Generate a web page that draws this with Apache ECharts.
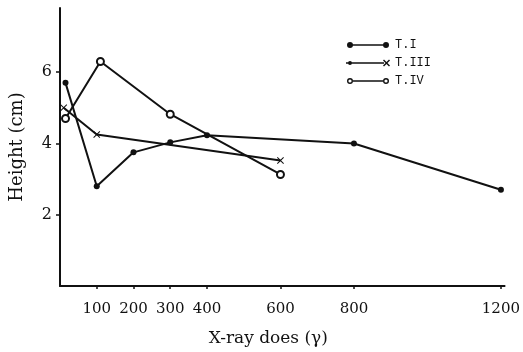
<!DOCTYPE html>
<html>
<head>
<meta charset="utf-8">
<script src="https://cdn.jsdelivr.net/npm/echarts@6/dist/echarts.min.js"></script>
<style>
  html, body { margin: 0; padding: 0; background: #fff; }
  #chart { width: 523px; height: 352px; }
</style>
</head>
<body>
<div id="chart"></div>
<script>
// values
const dosesT1 = [15, 100, 200, 300, 400, 800, 1200]
const heightT1 = [5.7, 2.8, 3.75, 4.03, 4.23, 4.0, 2.7]
const dosesT3 = [10, 100, 600]
const heightT3 = [5.0, 4.25, 3.52]
const dosesT4 = [15, 110, 300, 600]
const heightT4 = [4.7, 6.3, 4.82, 3.13]
const xTicks = [100, 200, 300, 400, 600, 800, 1200]
const yTicks = [2, 4, 6]
const seriesNames = ['T.I', 'T.III', 'T.IV']

const pairs = (xs, ys) => xs.map((x, i) => [x, ys[i]])

const serif = '"DejaVu Serif", "Liberation Serif", serif'
const crossPath = 'path://M0,1L1,0L5,4L9,0L10,1L6,5L10,9L9,10L5,6L1,10L0,9L4,5Z'

// legend icons: a line with a marker at each end
const iconT1 = 'path://M3,3.3H41V4.7H3Z M1,4A3,3 0 1,1 7,4A3,3 0 1,1 1,4Z M37,4A3,3 0 1,1 43,4A3,3 0 1,1 37,4Z M0,4H0.1V4.1H0Z M43.9,4H44V4.1H43.9Z'
const iconT3 = 'path://M0,3.3H38V4.7H0Z M2,4A2,2 0 1,1 6,4A2,2 0 1,1 2,4Z M37,1.5L38,0.5L40.5,3L43,0.5L44,1.5L41.5,4L44,6.5L43,7.5L40.5,5L38,7.5L37,6.5L39.5,4Z'
const iconT4 = 'path://M7,3.3H37V4.7H7Z M1,4A3,3 0 1,1 7,4A3,3 0 1,1 1,4Z M2.4,4A1.6,1.6 0 1,0 5.6,4A1.6,1.6 0 1,0 2.4,4Z M37,4A3,3 0 1,1 43,4A3,3 0 1,1 37,4Z M38.4,4A1.6,1.6 0 1,0 41.6,4A1.6,1.6 0 1,0 38.4,4Z M0,4H0.1V4.1H0Z M43.9,4H44V4.1H43.9Z'

const chart = echarts.init(document.getElementById('chart'))

const option = {
  animation: false,
  backgroundColor: '#fff',
  grid: { left: 60, right: 18, top: 8, bottom: 66 },
  legend: {
    orient: 'vertical',
    left: 341,
    top: 34,
    itemWidth: 44,
    itemHeight: 8,
    itemGap: 6,
    textStyle: { fontFamily: '"Liberation Mono", "DejaVu Sans Mono", monospace', fontSize: 12, color: '#111' },
    data: [
      { name: seriesNames[0], icon: iconT1, itemStyle: { color: '#111', borderWidth: 0 } },
      { name: seriesNames[1], icon: iconT3, itemStyle: { color: '#111', borderWidth: 0 } },
      { name: seriesNames[2], icon: iconT4, itemStyle: { color: '#111', borderWidth: 0 } }
    ]
  },
  xAxis: {
    type: 'value',
    min: 0,
    max: 1210,
    interval: 100,
    name: 'X-ray does (γ)',
    nameLocation: 'middle',
    nameGap: 44,
    nameTextStyle: { fontFamily: serif, fontSize: 17, color: '#111', padding: [0, 28, 0, 0] },
    axisLine: { lineStyle: { color: '#111', width: 2 } },
    axisTick: { customValues: xTicks, length: 3, lineStyle: { color: '#111', width: 1.5 } },
    axisLabel: {
      customValues: xTicks,
      formatter: (v) => String(v),
      fontFamily: serif, fontSize: 15, color: '#111', margin: 16
    },
    splitLine: { show: false }
  },
  yAxis: {
    type: 'value',
    min: 0,
    max: 7.8,
    interval: 2,
    name: 'Height (cm)',
    nameLocation: 'middle',
    nameGap: 34,
    nameRotate: 90,
    nameTextStyle: { fontFamily: serif, fontSize: 18, color: '#111' },
    axisLine: { show: true, lineStyle: { color: '#111', width: 2 } },
    axisTick: { customValues: yTicks, length: 4, lineStyle: { color: '#111', width: 1.5 } },
    axisLabel: { customValues: yTicks, fontFamily: serif, fontSize: 16, color: '#111', margin: 8 },
    splitLine: { show: false }
  },
  series: [
    {
      name: seriesNames[0],
      type: 'line',
      data: pairs(dosesT1, heightT1),
      symbol: 'circle',
      symbolSize: 6,
      lineStyle: { color: '#111', width: 2 },
      itemStyle: { color: '#111' }
    },
    {
      name: seriesNames[1],
      type: 'line',
      data: pairs(dosesT3, heightT3),
      symbol: crossPath,
      symbolSize: 7,
      lineStyle: { color: '#111', width: 2 },
      itemStyle: { color: '#111' }
    },
    {
      name: seriesNames[2],
      type: 'line',
      data: pairs(dosesT4, heightT4),
      symbol: 'emptyCircle',
      symbolSize: 7,
      lineStyle: { color: '#111', width: 2 },
      itemStyle: { color: '#111', borderColor: '#111', borderWidth: 1.5 }
    }
  ]
}

chart.setOption(option)
</script>
</body>
</html>
